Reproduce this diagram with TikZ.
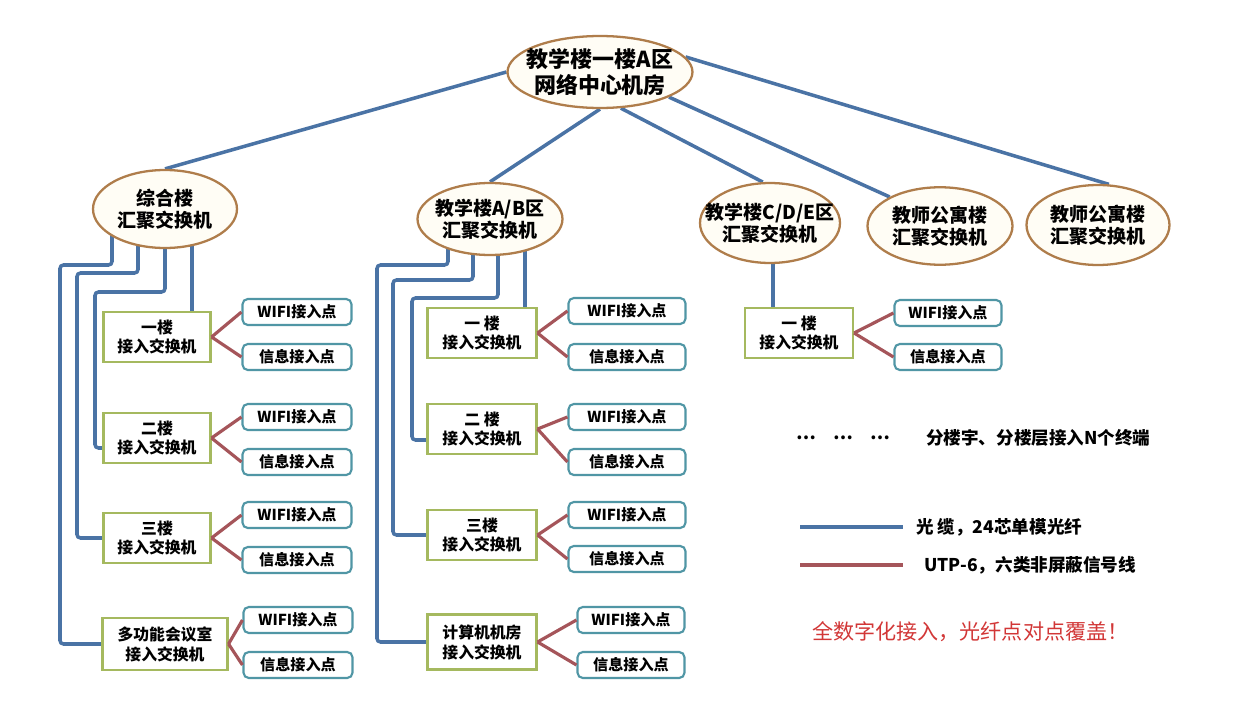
\documentclass[tikz,border=0pt]{standalone}
\usepackage{fontspec}
\setmainfont{Noto Sans CJK SC}
\usetikzlibrary{shapes.geometric,calc,backgrounds}

\definecolor{fibercol}{RGB}{74,115,165}
\definecolor{utpcol}{RGB}{165,85,90}
\definecolor{hubline}{RGB}{175,125,75}
\definecolor{hubfill}{RGB}{255,253,245}
\definecolor{accline}{RGB}{165,185,95}
\definecolor{apline}{RGB}{80,150,165}
\definecolor{slogan}{RGB}{210,55,55}

\begin{document}
\begin{tikzpicture}[x=0.02cm, y=-0.02cm,
  hub/.style={ellipse, draw=hubline, line width=1.3pt, fill=hubfill, inner sep=0pt,
    minimum width=2.9cm, minimum height=1.55cm},
  hubtxt/.style={align=center, font=\fontsize{10.8}{12.5}\selectfont\bfseries},
  accsw/.style={rectangle, draw=accline, line width=1.2pt, fill=white, align=center,
    minimum width=2.14cm, minimum height=1cm, inner sep=1pt,
    font=\fontsize{9}{11.3}\selectfont\bfseries},
  apbox/.style={rectangle, rounded corners=3pt, draw=apline, line width=1.2pt, fill=white,
    minimum width=2.18cm, minimum height=0.52cm, inner sep=1pt,
    font=\fontsize{8.6}{10}\selectfont\bfseries},
  fiber/.style={line width=2pt, color=fibercol, rounded corners=2pt},
  utp/.style={line width=1.8pt, color=utpcol},
  legend/.style={anchor=west, font=\fontsize{10}{12}\selectfont\bfseries}]

\useasboundingbox (0,0) rectangle (1238,710);

% Core and building switches
\node[hub, minimum width=3.7cm, minimum height=1.44cm,
  label={[hubtxt, font=\fontsize{12.5}{14.5}\selectfont\bfseries]center:{教学楼一楼A区\\网络中心机房}}] (root) at (600,72) {};
\node[hub, minimum width=2.88cm, minimum height=1.56cm, label={[hubtxt]center:{综合楼\\汇聚交换机}}] (zh) at (165,209) {};
\node[hub, minimum height=1.44cm, label={[hubtxt]center:{教学楼A/B区\\汇聚交换机}}] (ab) at (490,219) {};
\node[hub, minimum width=2.8cm, minimum height=1.6cm, label={[hubtxt]center:{教学楼C/D/E区\\汇聚交换机}}] (cde) at (770,223) {};
\node[hub, label={[hubtxt]center:{教师公寓楼\\汇聚交换机}}] (js1) at (940,226) {};
\node[hub, minimum width=2.86cm, minimum height=1.6cm, label={[hubtxt]center:{教师公寓楼\\汇聚交换机}}] (js2) at (1098,225) {};

% Left column: 综合楼
\node[accsw] (zy1) at (157,337) {一楼\\接入交换机};
\node[accsw] (zy2) at (157,438) {二楼\\接入交换机};
\node[accsw] (zy3) at (157,538) {三楼\\接入交换机};
\node[accsw, minimum width=2.5cm, minimum height=1.04cm] (zy4) at (165,644) {多功能会议室\\接入交换机};
\node[apbox] (zw1) at (297,312) {WIFI接入点};
\node[apbox] (zi1) at (297,357) {信息接入点};
\node[apbox] (zw2) at (297,417) {WIFI接入点};
\node[apbox] (zi2) at (297,462) {信息接入点};
\node[apbox] (zw3) at (297,515) {WIFI接入点};
\node[apbox] (zi3) at (297,560) {信息接入点};
\node[apbox] (zw4) at (298,620) {WIFI接入点};
\node[apbox] (zi4) at (298,665) {信息接入点};

% Middle column: 教学楼A/B区
\node[accsw, minimum width=2.18cm] (ay1) at (482,333) {一 楼\\接入交换机};
\node[accsw, minimum width=2.18cm] (ay2) at (482,429) {二 楼\\接入交换机};
\node[accsw, minimum width=2.18cm] (ay3) at (482,535) {三楼\\接入交换机};
\node[accsw, minimum width=2.18cm, minimum height=1.1cm] (ay4) at (482,642) {计算机机房\\接入交换机};
\node[apbox, minimum width=2.34cm] (aw1) at (627,311) {WIFI接入点};
\node[apbox, minimum width=2.34cm] (ai1) at (627,357) {信息接入点};
\node[apbox, minimum width=2.34cm] (aw2) at (627,417) {WIFI接入点};
\node[apbox, minimum width=2.34cm] (ai2) at (627,462) {信息接入点};
\node[apbox, minimum width=2.34cm] (aw3) at (627,515) {WIFI接入点};
\node[apbox, minimum width=2.34cm] (ai3) at (627,559) {信息接入点};
\node[apbox, minimum width=2.14cm] (aw4) at (631,620) {WIFI接入点};
\node[apbox, minimum width=2.14cm] (ai4) at (631,665) {信息接入点};

% Right column: 教学楼C/D/E区
\node[accsw, minimum width=2.16cm] (cy1) at (799,333) {一 楼\\接入交换机};
\node[apbox, minimum width=2.14cm] (cw1) at (948,313) {WIFI接入点};
\node[apbox, minimum width=2.14cm] (ci1) at (948,357) {信息接入点};

% Legend
\node[legend, anchor=west] (dots) at (790,438) {…\quad …\quad …};
\node[legend] (note) at (920,438) {分楼宇、分楼层接入N个终端};
\coordinate (fbs) at (800,527);
\coordinate (fbe) at (903,527);
\node[legend] (fbtxt) at (910,527) {光 缆，24芯单模光纤};
\coordinate (ups) at (800,565);
\coordinate (upe) at (903,565);
\node[legend] (uptxt) at (918,565) {UTP-6，六类非屏蔽信号线};
\node[anchor=west, text=slogan, font=\fontsize{12}{14}\selectfont] (slg) at (806,632) {全数字化接入，光纤点对点覆盖！};

\begin{scope}[on background layer]
\fill[white] (0,0) rectangle (1238,710);
% Backbone fibre
\draw[fiber] (root.west) -- (zh.north);
\draw[fiber] (root.south) -- (ab.north);
\draw[fiber] (root.-60) -- (cde.100);
\draw[fiber] (root.-20) -- (js1.150);
\draw[fiber] (root.10) -- (js2.75);
% Fibre to floors, 综合楼
\draw[fiber] ($(zh.center)+(-53,0)$) -- ++(0,56) -- ++(-52,0) |- (zy4.west);
\draw[fiber] ($(zh.center)+(-27,0)$) -- ++(0,64) -- ++(-61,0) |- (zy3.west);
\draw[fiber] (zh.center) -- ++(0,83) -- ++(-70,0) |- ($(zy2.west)+(0,10)$);
\draw[fiber] ($(zh.center)+(27,0)$) -- ($(zy1.north)+(35,0)$);
% Fibre to floors, A/B
\draw[fiber] ($(ab.center)+(-42,0)$) -- ++(0,46) -- ++(-71,0) |- (ay4.west);
\draw[fiber] ($(ab.center)+(-17,0)$) -- ++(0,61) -- ++(-80,0) |- (ay3.west);
\draw[fiber] ($(ab.center)+(8,0)$) -- ++(0,79) -- ++(-86,0) |- ($(ay2.west)+(0,11)$);
\draw[fiber] ($(ab.center)+(35,0)$) -- ($(ay1.north)+(43,0)$);
% Fibre to floors, C/D/E
\draw[fiber] ($(cde.center)+(3,0)$) -- ($(cy1.north)+(-26,0)$);
\end{scope}

% UTP to access points
\draw[utp] (zy1.east) -- (zw1.west);
\draw[utp] (zy1.east) -- (zi1.west);
\draw[utp] (zy2.east) -- (zw2.west);
\draw[utp] (zy2.east) -- (zi2.west);
\draw[utp] (zy3.east) -- (zw3.west);
\draw[utp] (zy3.east) -- (zi3.west);
\draw[utp] (zy4.east) -- (zw4.west);
\draw[utp] (zy4.east) -- (zi4.west);
\draw[utp] (ay1.east) -- (aw1.west);
\draw[utp] (ay1.east) -- (ai1.west);
\draw[utp] (ay2.east) -- (aw2.west);
\draw[utp] (ay2.east) -- (ai2.west);
\draw[utp] (ay3.east) -- (aw3.west);
\draw[utp] (ay3.east) -- (ai3.west);
\draw[utp] (ay4.east) -- (aw4.west);
\draw[utp] (ay4.east) -- (ai4.west);
\draw[utp] (cy1.east) -- (cw1.west);
\draw[utp] (cy1.east) -- (ci1.west);

% Legend lines
\draw[fiber] (fbs) -- (fbe);
\draw[utp] (ups) -- (upe);
\end{tikzpicture}
\end{document}
